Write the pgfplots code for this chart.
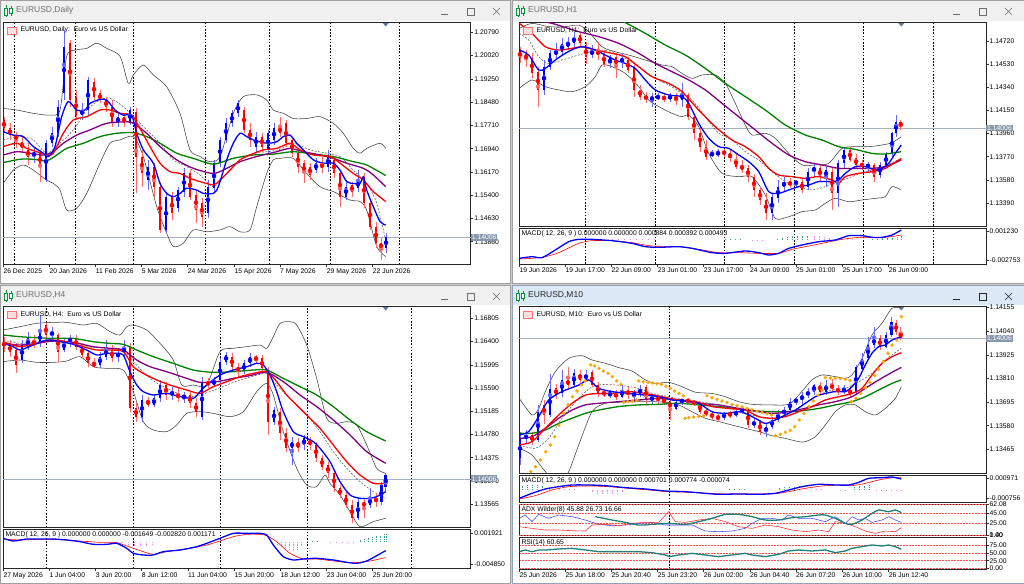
\documentclass[border=0pt]{standalone}
\usepackage{fontspec}
\setmainfont{Liberation Sans}
\usepackage{pgfplots}
\usepackage{pgfplotstable}
\pgfplotsset{compat=1.18}

\definecolor{mtblue}{RGB}{0,0,255}
\definecolor{mtred}{RGB}{255,0,0}
\definecolor{mtpurple}{RGB}{128,0,128}
\definecolor{mtgreen}{RGB}{0,128,0}
\definecolor{bbcol}{RGB}{64,64,64}
\definecolor{midcol}{RGB}{90,90,90}
\definecolor{tagcol}{RGB}{138,152,172}
\definecolor{pricecol}{RGB}{165,176,192}
\definecolor{sarcol}{RGB}{255,165,0}
\definecolor{histteal}{RGB}{60,160,150}
\definecolor{histpink}{RGB}{238,130,238}
\definecolor{adxcol}{RGB}{32,128,120}
\definecolor{lvlred}{RGB}{255,80,80}
\definecolor{titlegray}{RGB}{240,240,240}
\definecolor{titleblue}{RGB}{219,233,247}
\definecolor{wborder}{RGB}{160,160,160}
\definecolor{gapcol}{RGB}{205,205,205}
\definecolor{ttext}{RGB}{110,110,110}
\definecolor{icongreen}{RGB}{0,150,60}
\definecolor{markcol}{RGB}{100,120,150}

\newcommand{\tf}{\fontsize{6.8}{8}\selectfont}

% ---------------- candle data ----------------
\pgfplotstableread{
x o h l c
4 1.1789 1.1800 1.1750 1.1761
10 1.1761 1.1778 1.1723 1.1739
16 1.1739 1.1750 1.1695 1.1723
22 1.1717 1.1734 1.1679 1.1695
28 1.1690 1.1712 1.1640 1.1668
34 1.1668 1.1701 1.1646 1.1684
40 1.1679 1.1690 1.1585 1.1635
46 1.1590 1.1723 1.1585 1.1712
52 1.1712 1.1767 1.1701 1.1745
58 1.1745 1.1855 1.1734 1.1833
64 1.1877 1.2087 1.1855 1.2032
70 1.2043 1.2054 1.1833 1.1855
76 1.1866 1.1888 1.1789 1.1805
82 1.1805 1.1844 1.1789 1.1822
88 1.1822 1.1932 1.1805 1.1921
94 1.1916 1.1927 1.1855 1.1866
100 1.1877 1.1888 1.1844 1.1855
106 1.1855 1.1866 1.1817 1.1833
112 1.1833 1.1855 1.1767 1.1778
118 1.1778 1.1811 1.1767 1.1800
124 1.1800 1.1811 1.1767 1.1778
130 1.1778 1.1833 1.1772 1.1822
136 1.1817 1.1828 1.1546 1.1668
142 1.1668 1.1690 1.1568 1.1612
148 1.1590 1.1657 1.1557 1.1635
154 1.1635 1.1646 1.1535 1.1568
160 1.1568 1.1585 1.1414 1.1425
166 1.1425 1.1546 1.1414 1.1535
172 1.1535 1.1552 1.1458 1.1480
178 1.1497 1.1568 1.1486 1.1557
184 1.1552 1.1629 1.1535 1.1612
190 1.1612 1.1623 1.1524 1.1535
196 1.1541 1.1557 1.1447 1.1491
202 1.1513 1.1530 1.1436 1.1469
208 1.1480 1.1590 1.1464 1.1568
214 1.1563 1.1657 1.1546 1.1646
220 1.1646 1.1734 1.1635 1.1723
226 1.1723 1.1794 1.1712 1.1778
232 1.1778 1.1822 1.1767 1.1811
238 1.1811 1.1855 1.1800 1.1844
244 1.1822 1.1833 1.1745 1.1756
250 1.1756 1.1778 1.1701 1.1723
256 1.1701 1.1750 1.1684 1.1734
262 1.1734 1.1745 1.1684 1.1701
268 1.1690 1.1756 1.1673 1.1745
274 1.1723 1.1778 1.1706 1.1761
280 1.1767 1.1800 1.1734 1.1745
286 1.1778 1.1789 1.1701 1.1712
292 1.1723 1.1734 1.1668 1.1679
298 1.1679 1.1690 1.1612 1.1635
304 1.1646 1.1657 1.1579 1.1612
310 1.1635 1.1646 1.1590 1.1607
316 1.1623 1.1662 1.1612 1.1646
322 1.1646 1.1668 1.1612 1.1629
328 1.1635 1.1690 1.1618 1.1668
334 1.1657 1.1668 1.1596 1.1612
340 1.1612 1.1623 1.1502 1.1535
346 1.1535 1.1590 1.1524 1.1568
352 1.1574 1.1585 1.1535 1.1552
358 1.1563 1.1623 1.1552 1.1590
364 1.1601 1.1612 1.1497 1.1513
370 1.1513 1.1524 1.1425 1.1436
376 1.1436 1.1453 1.1364 1.1381
381 1.1381 1.1397 1.1326 1.1364
386 1.1364 1.1414 1.1348 1.1403
}\dA

\pgfplotstableread{
x o h l c
8 1.14646 1.14673 1.14536 1.14578
14 1.14619 1.14646 1.14509 1.14564
20 1.14578 1.14619 1.14413 1.14454
26 1.14468 1.14509 1.14181 1.14318
32 1.14318 1.14564 1.14277 1.14509
38 1.14509 1.14646 1.14482 1.14619
44 1.14605 1.14701 1.14564 1.14646
50 1.14632 1.14742 1.14605 1.14701
56 1.14673 1.14756 1.14646 1.14715
62 1.14701 1.14797 1.14673 1.14756
68 1.14769 1.14797 1.14673 1.14701
74 1.14673 1.14715 1.14536 1.14591
80 1.14605 1.14687 1.14578 1.14646
86 1.14646 1.14715 1.14564 1.14605
92 1.14605 1.14646 1.14509 1.14536
98 1.14536 1.14605 1.14495 1.14578
104 1.14591 1.14619 1.14413 1.14509
110 1.14550 1.14619 1.14495 1.14578
116 1.14564 1.14591 1.14454 1.14482
122 1.14495 1.14523 1.14263 1.14318
128 1.14318 1.14359 1.14235 1.14263
134 1.14277 1.14304 1.14208 1.14235
140 1.14235 1.14290 1.14181 1.14263
146 1.14249 1.14290 1.14235 1.14268
152 1.14263 1.14285 1.14222 1.14241
158 1.14241 1.14296 1.14222 1.14277
164 1.14268 1.14290 1.14194 1.14235
170 1.14235 1.14372 1.14181 1.14290
176 1.14277 1.14290 1.14071 1.14098
182 1.14098 1.14126 1.13907 1.13962
188 1.13962 1.14016 1.13811 1.13852
194 1.13852 1.13907 1.13743 1.13770
200 1.13784 1.13825 1.13770 1.13797
206 1.13784 1.13838 1.13770 1.13811
212 1.13811 1.13838 1.13770 1.13797
218 1.13797 1.13825 1.13729 1.13756
224 1.13756 1.13797 1.13674 1.13688
230 1.13702 1.13743 1.13633 1.13660
236 1.13674 1.13702 1.13565 1.13606
242 1.13606 1.13633 1.13442 1.13496
248 1.13496 1.13524 1.13373 1.13414
254 1.13414 1.13469 1.13250 1.13305
260 1.13305 1.13469 1.13250 1.13442
266 1.13428 1.13578 1.13387 1.13524
272 1.13524 1.13606 1.13483 1.13565
278 1.13565 1.13592 1.13510 1.13537
284 1.13551 1.13578 1.13524 1.13565
290 1.13565 1.13592 1.13469 1.13496
296 1.13524 1.13674 1.13496 1.13647
302 1.13647 1.13715 1.13606 1.13688
308 1.13674 1.13702 1.13565 1.13606
314 1.13606 1.13688 1.13524 1.13660
320 1.13647 1.13674 1.13332 1.13469
326 1.13469 1.13743 1.13359 1.13715
332 1.13715 1.13852 1.13674 1.13825
338 1.13825 1.13852 1.13729 1.13743
344 1.13756 1.13797 1.13674 1.13702
350 1.13715 1.13743 1.13660 1.13688
356 1.13688 1.13729 1.13647 1.13702
362 1.13702 1.13715 1.13565 1.13606
368 1.13619 1.13729 1.13592 1.13702
374 1.13702 1.13811 1.13674 1.13797
380 1.13797 1.13975 1.13756 1.13962
384 1.13962 1.14112 1.13934 1.14057
388.7 1.14057 1.14071 1.13989 1.14016
}\dB

\pgfplotstableread{
x o h l c
4 1.16398 1.16485 1.16224 1.16311
10 1.16340 1.16427 1.16137 1.16224
16 1.16253 1.16369 1.15846 1.15992
22 1.16079 1.16427 1.16021 1.16340
28 1.16311 1.16573 1.16253 1.16456
34 1.16427 1.16515 1.16282 1.16340
40 1.16369 1.16863 1.16311 1.16573
46 1.16689 1.16718 1.16456 1.16515
52 1.16515 1.16660 1.16398 1.16573
58 1.16515 1.16544 1.16050 1.16224
64 1.16253 1.16456 1.16224 1.16398
70 1.16398 1.16515 1.16311 1.16456
76 1.16456 1.16515 1.16253 1.16311
82 1.16311 1.16369 1.16108 1.16166
88 1.16195 1.16253 1.15962 1.16021
94 1.16050 1.16108 1.15933 1.15962
100 1.15992 1.16224 1.15933 1.16137
106 1.16137 1.16427 1.16079 1.16282
112 1.16253 1.16340 1.16050 1.16108
118 1.16137 1.16282 1.16050 1.16195
124 1.16224 1.16427 1.16137 1.16282
130 1.16311 1.16369 1.15178 1.15236
136 1.15236 1.15353 1.15004 1.15091
142 1.15091 1.15469 1.15004 1.15382
148 1.15382 1.15440 1.15265 1.15295
154 1.15295 1.15469 1.15265 1.15411
160 1.15411 1.15730 1.15353 1.15643
166 1.15643 1.15701 1.15382 1.15469
172 1.15469 1.15614 1.15382 1.15527
178 1.15498 1.15585 1.15353 1.15411
184 1.15411 1.15527 1.15324 1.15469
190 1.15469 1.15527 1.15236 1.15324
196 1.15324 1.15411 1.15091 1.15178
202 1.15091 1.15788 1.15033 1.15701
208 1.15701 1.15759 1.15585 1.15643
214 1.15643 1.15788 1.15614 1.15730
220 1.15730 1.16108 1.15672 1.16050
226 1.16050 1.16224 1.15992 1.16166
232 1.16137 1.16195 1.15904 1.15962
238 1.15962 1.16021 1.15788 1.15875
244 1.15887 1.16079 1.15829 1.16021
250 1.16021 1.16195 1.15962 1.16137
256 1.16137 1.16166 1.16021 1.16079
262 1.16108 1.16166 1.15875 1.15933
268 1.15904 1.15962 1.14772 1.15004
274 1.15004 1.15265 1.14946 1.15207
280 1.15178 1.15236 1.14684 1.14801
286 1.14801 1.14888 1.14481 1.14539
292 1.14539 1.14743 1.14248 1.14655
298 1.14655 1.14713 1.14481 1.14539
304 1.14597 1.14772 1.14510 1.14713
310 1.14684 1.14743 1.14510 1.14597
316 1.14597 1.14655 1.14306 1.14364
322 1.14364 1.14423 1.14162 1.14220
328 1.14248 1.14306 1.14016 1.14104
334 1.14104 1.14162 1.13784 1.13842
340 1.13842 1.13900 1.13668 1.13726
346 1.13726 1.13784 1.13493 1.13551
352 1.13551 1.13639 1.13232 1.13319
358 1.13319 1.13668 1.13290 1.13610
364 1.13610 1.13668 1.13319 1.13522
370 1.13551 1.13842 1.13493 1.13668
376 1.13668 1.13755 1.13522 1.13610
381.3 1.13610 1.13958 1.13551 1.13900
385.7 1.13871 1.14104 1.13784 1.14075
}\dC

\pgfplotstableread{
x o h l c
8 1.13421 1.13551 1.13388 1.13518
14 1.13518 1.13559 1.13494 1.13535
20 1.13535 1.13551 1.13486 1.13502
26 1.13510 1.13681 1.13502 1.13648
32 1.13681 1.13705 1.13591 1.13632
38 1.13632 1.13835 1.13624 1.13762
44 1.13762 1.13786 1.13713 1.13729
50 1.13737 1.13851 1.13721 1.13803
56 1.13803 1.13867 1.13762 1.13778
62 1.13778 1.13859 1.13770 1.13835
68 1.13835 1.13851 1.13786 1.13803
74 1.13803 1.13851 1.13794 1.13835
80 1.13843 1.13851 1.13770 1.13778
86 1.13778 1.13794 1.13721 1.13737
92 1.13746 1.13762 1.13721 1.13729
98 1.13729 1.13754 1.13713 1.13737
104 1.13737 1.13754 1.13705 1.13721
110 1.13721 1.13778 1.13713 1.13754
116 1.13754 1.13770 1.13713 1.13729
122 1.13729 1.13754 1.13705 1.13737
128 1.13737 1.13778 1.13721 1.13762
134 1.13770 1.13778 1.13681 1.13705
140 1.13705 1.13737 1.13689 1.13721
146 1.13721 1.13729 1.13689 1.13705
152 1.13705 1.13721 1.13681 1.13697
158 1.13697 1.13713 1.13608 1.13664
164 1.13664 1.13705 1.13656 1.13697
170 1.13697 1.13713 1.13681 1.13705
176 1.13705 1.13713 1.13684 1.13697
182 1.13697 1.13705 1.13678 1.13689
188 1.13689 1.13697 1.13640 1.13648
194 1.13648 1.13664 1.13629 1.13640
200 1.13640 1.13651 1.13608 1.13624
206 1.13624 1.13635 1.13600 1.13616
212 1.13616 1.13648 1.13608 1.13640
218 1.13640 1.13651 1.13619 1.13632
224 1.13632 1.13661 1.13624 1.13648
230 1.13648 1.13673 1.13635 1.13664
236 1.13656 1.13664 1.13570 1.13583
242 1.13583 1.13616 1.13567 1.13600
248 1.13600 1.13608 1.13535 1.13551
254 1.13551 1.13591 1.13526 1.13575
260 1.13575 1.13624 1.13567 1.13608
266 1.13608 1.13656 1.13600 1.13640
272 1.13640 1.13673 1.13624 1.13656
278 1.13656 1.13713 1.13648 1.13697
284 1.13697 1.13721 1.13681 1.13705
290 1.13705 1.13746 1.13689 1.13729
296 1.13729 1.13762 1.13713 1.13746
302 1.13746 1.13786 1.13729 1.13778
308 1.13778 1.13794 1.13737 1.13746
314 1.13746 1.13803 1.13729 1.13778
320 1.13778 1.13811 1.13746 1.13762
326 1.13762 1.13778 1.13729 1.13746
332 1.13746 1.13778 1.13737 1.13762
338 1.13754 1.13770 1.13721 1.13737
344 1.13746 1.13876 1.13729 1.13867
350 1.13859 1.13933 1.13851 1.13908
356 1.13908 1.14014 1.13900 1.13973
362 1.13973 1.14062 1.13957 1.14006
368 1.14006 1.14022 1.13949 1.13965
374 1.13965 1.14038 1.13957 1.14022
379.3 1.14022 1.14111 1.14014 1.14087
384 1.14079 1.14095 1.14022 1.14038
388.7 1.14038 1.14062 1.13997 1.14006
}\dD

\newcommand{\candles}[1]{%
  \addplot[mtblue!60, forget plot, only marks, mark=none,
    restrict expr to domain={10000*(\thisrow{c}-\thisrow{o})}{0:10000},
    error bars/.cd, y dir=both, y explicit, error mark=none,
    error bar style={mtblue!60, line width=0.7pt}]
    table[x=x, y expr={(\thisrow{h}+\thisrow{l})/2}, y error expr={(\thisrow{h}-\thisrow{l})/2}] {#1};
  \addplot[mtblue, forget plot, only marks, mark=none,
    restrict expr to domain={10000*(\thisrow{c}-\thisrow{o})}{0:10000},
    error bars/.cd, y dir=both, y explicit, error mark=none,
    error bar style={mtblue, line width=2.8pt}]
    table[x=x, y expr={(\thisrow{o}+\thisrow{c})/2}, y error expr={abs(\thisrow{c}-\thisrow{o})/2}] {#1};
  \addplot[mtred!60, forget plot, only marks, mark=none,
    restrict expr to domain={10000*(\thisrow{c}-\thisrow{o})}{-10000:-0.0001},
    error bars/.cd, y dir=both, y explicit, error mark=none,
    error bar style={mtred!60, line width=0.7pt}]
    table[x=x, y expr={(\thisrow{h}+\thisrow{l})/2}, y error expr={(\thisrow{h}-\thisrow{l})/2}] {#1};
  \addplot[mtred, forget plot, only marks, mark=none,
    restrict expr to domain={10000*(\thisrow{c}-\thisrow{o})}{-10000:-0.0001},
    error bars/.cd, y dir=both, y explicit, error mark=none,
    error bar style={mtred, line width=2.8pt}]
    table[x=x, y expr={(\thisrow{o}+\thisrow{c})/2}, y error expr={abs(\thisrow{c}-\thisrow{o})/2}] {#1};
}

\pgfplotsset{
  mt/.style={
    scale only axis, anchor=north west,
    axis line style={draw=black!85, line width=0.7pt},
    xtick pos=bottom, ytick pos=right, tick align=outside,
    major tick length=2.5pt, tick style={black!80, line width=0.5pt},
    tick label style={font=\tf},
    yticklabel style={inner sep=1pt},
    xticklabel style={anchor=north west, inner sep=1pt, xshift=-1pt, yshift=-0.5pt},
    xtick=\empty, scaled y ticks=false, enlargelimits=false,
  },
  vgrid/.style={extra x ticks={#1}, extra x tick labels={},
    extra x tick style={grid=major, major grid style={black, line width=0.5pt, dash pattern=on 1.6pt off 1.6pt}, major tick length=0pt}},
  pline/.style={extra y ticks={1.14006}, extra y tick labels={1.14006},
    extra y tick style={grid=major, major grid style={pricecol, line width=0.8pt}, major tick length=0pt,
      yticklabel style={fill=tagcol, text=white, inner sep=1pt}}},
  ma/.style={line width=1.3pt, smooth, tension=0.45, no marks},
  bb/.style={line width=0.55pt, draw=bbcol, smooth, tension=0.45, no marks},
  mid/.style={line width=0.55pt, draw=midcol, dash pattern=on 2pt off 1.5pt, smooth, tension=0.45, no marks},
  hist/.style={ycomb, no marks, line width=1pt, dash pattern=on 1pt off 0.7pt},
  lvl/.style={draw=lvlred, line width=0.5pt, dash pattern=on 1.5pt off 1.5pt},
}

\newcommand{\legendtxt}[1]{%
  \node[anchor=north west, draw=red!55, fill=red!12, minimum width=9pt, minimum height=7pt, inner sep=0pt] at (rel axis cs:0,1) [xshift=4pt, yshift=-4pt] {};
  \node[anchor=west, font=\tf, inner sep=0pt] at (rel axis cs:0,1) [xshift=17pt, yshift=-7.5pt] {#1};}

\begin{document}
\begin{tikzpicture}
\useasboundingbox (0pt,0pt) rectangle (1024pt,-583pt);
\fill[gapcol] (0pt,0pt) rectangle (1024pt,-583pt);
\begin{scope}[x=1pt,y=1pt]
% windows
\fill[white] (0,0) rectangle (510,-283);
\fill[white] (512,0) rectangle (1024,-283);
\fill[white] (0,-285) rectangle (510,-583);
\fill[white] (512,-285) rectangle (1024,-583);
\fill[titlegray] (0,0) rectangle (510,-21);
\fill[titlegray] (512,0) rectangle (1024,-21);
\fill[titlegray] (0,-285) rectangle (510,-305);
\fill[titleblue] (512,-285) rectangle (1024,-305);
\draw[wborder] (0.3,-0.3) rectangle (509.7,-282.7);
\draw[wborder] (512.3,-0.3) rectangle (1023.7,-282.7);
\draw[wborder] (0.3,-285.3) rectangle (509.7,-582.7);
\draw[markcol!70] (512.3,-285.3) rectangle (1023.7,-582.7);
% title bars
\foreach \ox/\oy/\ttl/\tc in {0/0/{EURUSD,Daily}/ttext, 512/0/{EURUSD,H1}/ttext, 0/-285/{EURUSD,H4}/ttext, 512/-285/{EURUSD,M10}/black!85}{
  \draw[icongreen, line width=0.6pt] (\ox+6,\oy-5) -- (\ox+6,\oy-17) (\ox+11,\oy-6) -- (\ox+11,\oy-16);
  \draw[icongreen, line width=0.6pt, fill=white] (\ox+4.5,\oy-8) rectangle (\ox+7.5,\oy-15) (\ox+9.5,\oy-8.5) rectangle (\ox+12.5,\oy-13.5);
  \node[anchor=west, font=\fontsize{8.5}{10}\selectfont, text=\tc, inner sep=0pt] at (\ox+16,\oy-10.5) {\ttl};
  \draw[\tc, line width=0.6pt] (\ox+441,\oy-14) -- (\ox+448,\oy-14);
  \draw[\tc, line width=0.6pt] (\ox+467,\oy-8) rectangle (\ox+474,\oy-15);
  \draw[\tc, line width=0.6pt] (\ox+493,\oy-8) -- (\ox+500,\oy-15) (\ox+493,\oy-15) -- (\ox+500,\oy-8);
}
\fill[markcol] (382.7,-23) -- (388.7,-23) -- (385.7,-26.5) -- cycle;
\fill[markcol] (898.3,-23) -- (904.3,-23) -- (901.3,-26.5) -- cycle;
\fill[markcol] (382.7,-307) -- (388.7,-307) -- (385.7,-310.5) -- cycle;
\fill[markcol] (898.3,-307) -- (904.3,-307) -- (901.3,-310.5) -- cycle;
\end{scope}

% ================= DAILY =================
\begin{axis}[mt, pline, at={(3.3pt,-22.7pt)}, width=467.4pt, height=241.6pt,
  xmin=3.3, xmax=470.7, ymin=1.13113, ymax=1.21110,
  ytick={1.20790,1.20020,1.19250,1.18480,1.17710,1.16940,1.16170,1.15400,1.14630,1.13860},
  yticklabels={1.20790,1.20020,1.19250,1.18480,1.17710,1.16940,1.16170,1.15400,1.14630,1.13860},
  xtick={3.3,49.3,95.7,141.7,187.7,234.3,280,326.7,372.7},
  xticklabels={26 Dec 2025,20 Jan 2026,11 Feb 2026,5 Mar 2026,24 Mar 2026,15 Apr 2026,7 May 2026,29 May 2026,22 Jun 2026},
  vgrid={14.3,75.3,133.3,205.7,269.3,330.3,399.7}]
\addplot[bb] coordinates {(3.3,1.1827)(16.7,1.1822)(33.3,1.1811)(50,1.1805)(60,1.1822)(66.7,1.2000)(76.7,1.2021)(86.7,1.2026)(96.7,1.2043)(106.7,1.2026)(120,1.2000)(128.3,1.1910)(133.3,1.1938)(143.3,1.1971)(153.3,1.1938)(166.7,1.1899)(180,1.1811)(190,1.1690)(200,1.1668)(210,1.1651)(220,1.1668)(233.3,1.1811)(243.3,1.1866)(256.7,1.1872)(266.7,1.1855)(273.3,1.1822)(283.3,1.1811)(293.3,1.1794)(306.7,1.1794)(320,1.1800)(333.3,1.1778)(343.3,1.1745)(353.3,1.1695)(360,1.1679)(366.7,1.1695)(380,1.1712)(385.7,1.1695)};
\addplot[bb] coordinates {(3.3,1.1579)(13.3,1.1623)(23.3,1.1640)(33.3,1.1623)(46.7,1.1590)(53.3,1.1579)(60,1.1557)(66.7,1.1491)(76.7,1.1497)(86.7,1.1546)(100,1.1646)(110,1.1712)(120,1.1723)(133.3,1.1734)(143.3,1.1668)(156.7,1.1502)(166.7,1.1414)(173.3,1.1370)(183.3,1.1381)(193.3,1.1425)(206.7,1.1419)(220,1.1425)(230,1.1436)(240,1.1419)(250,1.1425)(256.7,1.1502)(266.7,1.1612)(273.3,1.1657)(280,1.1662)(293.3,1.1662)(306.7,1.1612)(320,1.1568)(333.3,1.1552)(350,1.1524)(360,1.1519)(366.7,1.1491)(376.7,1.1370)(385.7,1.1337)};
\addplot[mid] coordinates {(3.3,1.1723)(20,1.1734)(33.3,1.1723)(46.7,1.1679)(60,1.1712)(73.3,1.1756)(86.7,1.1822)(100,1.1855)(110,1.1861)(123.3,1.1833)(133.3,1.1800)(146.7,1.1756)(160,1.1712)(173.3,1.1657)(186.7,1.1635)(200,1.1607)(213.3,1.1568)(226.7,1.1612)(240,1.1657)(253.3,1.1679)(266.7,1.1684)(280,1.1692)(293.3,1.1712)(310,1.1690)(326.7,1.1679)(340,1.1668)(353.3,1.1623)(366.7,1.1579)(376.7,1.1513)(385.7,1.1390)};
\candles{\dA}
\addplot[ma, mtgreen] coordinates {(3.3,1.1648)(20,1.1659)(33.3,1.1659)(46.7,1.1654)(56.7,1.1673)(66.7,1.1695)(83.3,1.1712)(100,1.1734)(116.7,1.1745)(133.3,1.1747)(146.7,1.1734)(160,1.1712)(176.7,1.1679)(193.3,1.1662)(213.3,1.1643)(233.3,1.1662)(253.3,1.1673)(273.3,1.1676)(293.3,1.1684)(313.3,1.1676)(333.3,1.1668)(353.3,1.1651)(366.7,1.1640)(385.7,1.1605)};
\addplot[ma, mtpurple] coordinates {(3.3,1.1673)(16.7,1.1684)(30,1.1679)(43.3,1.1673)(53.3,1.1684)(63.3,1.1712)(76.7,1.1739)(90,1.1756)(106.7,1.1778)(126.7,1.1783)(133.3,1.1778)(146.7,1.1745)(160,1.1701)(176.7,1.1657)(193.3,1.1629)(213.3,1.1612)(226.7,1.1629)(240,1.1651)(256.7,1.1668)(276.7,1.1684)(290,1.1695)(303.3,1.1684)(320,1.1673)(333.3,1.1662)(346.7,1.1646)(363.3,1.1629)(373.3,1.1607)(385.7,1.1568)};
\addplot[ma, mtred] coordinates {(3.3,1.1701)(16.7,1.1712)(26.7,1.1695)(36.7,1.1684)(46.7,1.1673)(53.3,1.1679)(63.3,1.1745)(73.3,1.1789)(86.7,1.1800)(100,1.1822)(110,1.1822)(120,1.1811)(131.7,1.1805)(140,1.1761)(150,1.1701)(160,1.1646)(170,1.1618)(180,1.1612)(190,1.1596)(200,1.1585)(213.3,1.1574)(220,1.1590)(230,1.1623)(240,1.1657)(250,1.1673)(263.3,1.1690)(276.7,1.1695)(290,1.1712)(300,1.1690)(313.3,1.1673)(330,1.1668)(340,1.1646)(353.3,1.1612)(363.3,1.1590)(373.3,1.1552)(385.7,1.1519)};
\addplot[ma, mtblue] coordinates {(3.3,1.1750)(13.3,1.1739)(23.3,1.1734)(33.3,1.1701)(43.3,1.1679)(48.3,1.1668)(55,1.1701)(61.7,1.1800)(68.3,1.1850)(76.7,1.1822)(85,1.1822)(90,1.1844)(100,1.1857)(106.7,1.1855)(115,1.1822)(123.3,1.1805)(131.7,1.1805)(136.7,1.1745)(143.3,1.1690)(153.3,1.1646)(160,1.1579)(166.7,1.1546)(173.3,1.1535)(180,1.1546)(186.7,1.1563)(196.7,1.1557)(203.3,1.1546)(213.3,1.1546)(218.3,1.1568)(226.7,1.1657)(233.3,1.1712)(240,1.1745)(246.7,1.1734)(253.3,1.1723)(266.7,1.1712)(276.7,1.1717)(283.3,1.1734)(290,1.1739)(296.7,1.1712)(303.3,1.1690)(313.3,1.1657)(323.3,1.1646)(333.3,1.1646)(340,1.1623)(346.7,1.1585)(353.3,1.1579)(360,1.1579)(363.3,1.1601)(366.7,1.1557)(373.3,1.1502)(380,1.1453)(385.7,1.1441)};
\legendtxt{EURUSD, Daily:\ \ Euro vs US Dollar}
\end{axis}

% ================= H1 =================
\begin{axis}[mt, pline, at={(519.3pt,-22.7pt)}, width=466.7pt, height=203.3pt,
  xmin=7.3, xmax=474, ymin=1.132004, ymax=1.148706,
  ytick={1.14720,1.14530,1.14340,1.14150,1.13960,1.13770,1.13580,1.13390},
  yticklabels={1.14720,1.14530,1.14340,1.14150,1.13960,1.13770,1.13580,1.13390},
  vgrid={73.7,143.3,212.7,282.3,351.7,421.3}]
\addplot[bb] coordinates {(7.3,1.14824)(20,1.14865)(36.7,1.14838)(53.3,1.14838)(66.7,1.14851)(76.7,1.14797)(90,1.14673)(103.3,1.14632)(116.7,1.14605)(133.3,1.14564)(150,1.14523)(160,1.14509)(170,1.14454)(180,1.14413)(190,1.14441)(203.3,1.14441)(213.3,1.14372)(223.3,1.14208)(233.3,1.14030)(240,1.13948)(253.3,1.13962)(263.3,1.13921)(276.7,1.13797)(290,1.13702)(303.3,1.13702)(316.7,1.13715)(330,1.13838)(343.3,1.13852)(356.7,1.13852)(370,1.13866)(380,1.13885)(389.3,1.13934)};
\addplot[bb] coordinates {(7.3,1.14331)(20,1.14400)(33.3,1.14345)(46.7,1.14318)(60,1.14304)(73.3,1.14345)(83.3,1.14427)(90,1.14523)(100,1.14509)(113.3,1.14454)(126.7,1.14345)(136.7,1.14235)(146.7,1.14181)(160,1.14126)(170,1.14098)(176.7,1.14112)(186.7,1.14016)(196.7,1.13797)(210,1.13633)(226.7,1.13606)(240,1.13606)(253.3,1.13455)(263.3,1.13263)(276.7,1.13277)(290,1.13318)(303.3,1.13332)(313.3,1.13387)(323.3,1.13428)(336.7,1.13400)(350,1.13414)(363.3,1.13428)(373.3,1.13442)(380,1.13524)(389.3,1.13496)};
\addplot[mid] coordinates {(7.3,1.14783)(16.7,1.14728)(26.7,1.14591)(36.7,1.14536)(50,1.14564)(66.7,1.14605)(86.7,1.14646)(100,1.14632)(113.3,1.14578)(126.7,1.14509)(140,1.14427)(156.7,1.14359)(170,1.14290)(180,1.14235)(193.3,1.14098)(206.7,1.13962)(220,1.13907)(233.3,1.13811)(246.7,1.13743)(260,1.13647)(273.3,1.13565)(286.7,1.13524)(300,1.13496)(313.3,1.13524)(326.7,1.13565)(340,1.13606)(353.3,1.13647)(366.7,1.13674)(389.3,1.13756)};
\candles{\dB}
\addplot[ma, mtgreen] coordinates {(100,1.14920)(113.3,1.14871)(133.3,1.14783)(153.3,1.14687)(173.3,1.14605)(193.3,1.14495)(213.3,1.14372)(233.3,1.14263)(253.3,1.14153)(273.3,1.14030)(293.3,1.13948)(310,1.13907)(326.7,1.13852)(343.3,1.13830)(360,1.13797)(373.3,1.13792)(389.3,1.13811)};
\addplot[ma, mtpurple] coordinates {(7.3,1.14920)(40,1.14865)(66.7,1.14797)(86.7,1.14756)(106.7,1.14701)(126.7,1.14619)(143.3,1.14536)(160,1.14468)(176.7,1.14400)(193.3,1.14318)(210,1.14208)(226.7,1.14098)(243.3,1.13989)(260,1.13880)(276.7,1.13784)(293.3,1.13729)(310,1.13702)(326.7,1.13674)(343.3,1.13674)(360,1.13674)(373.3,1.13688)(389.3,1.13743)};
\addplot[ma, mtred] coordinates {(7.3,1.14865)(20,1.14783)(33.3,1.14673)(46.7,1.14646)(60,1.14660)(70,1.14673)(83.3,1.14646)(100,1.14619)(113.3,1.14591)(126.7,1.14509)(140,1.14427)(156.7,1.14372)(170,1.14304)(186.7,1.14153)(203.3,1.14016)(220,1.13907)(233.3,1.13852)(246.7,1.13770)(256.7,1.13674)(266.7,1.13619)(280,1.13606)(293.3,1.13592)(306.7,1.13606)(320,1.13578)(326.7,1.13551)(333.3,1.13606)(346.7,1.13633)(360,1.13647)(373.3,1.13674)(389.3,1.13756)};
\addplot[ma, mtblue] coordinates {(7.3,1.14646)(16.7,1.14605)(26.7,1.14482)(33.3,1.14495)(43.3,1.14564)(53.3,1.14619)(63.3,1.14660)(71.7,1.14673)(83.3,1.14646)(93.3,1.14605)(103.3,1.14564)(113.3,1.14536)(123.3,1.14495)(133.3,1.14400)(143.3,1.14318)(156.7,1.14277)(170,1.14263)(176.7,1.14208)(186.7,1.14044)(196.7,1.13921)(206.7,1.13852)(216.7,1.13838)(226.7,1.13784)(236.7,1.13729)(246.7,1.13647)(256.7,1.13483)(266.7,1.13469)(276.7,1.13496)(286.7,1.13524)(296.7,1.13537)(306.7,1.13565)(320,1.13565)(326.7,1.13578)(333.3,1.13633)(343.3,1.13688)(353.3,1.13688)(363.3,1.13660)(370,1.13674)(376.7,1.13715)(383.3,1.13797)(389.3,1.13866)};
\legendtxt{EURUSD, H1:\ \ Euro vs US Dollar}
\end{axis}
\begin{axis}[mt, at={(519.3pt,-228pt)}, width=466.7pt, height=36pt,
  xmin=7.3, xmax=474, ymin=-0.003304, ymax=0.001642,
  ytick={0.001230,-0.002753}, yticklabels={0.001230,-0.002753},
  xtick={7.3,53.3,99.3,145.7,191.7,238,284,330.3,376.7},
  xticklabels={19 Jun 2026,19 Jun 17:00,22 Jun 09:00,23 Jun 01:00,23 Jun 17:00,24 Jun 09:00,25 Jun 01:00,25 Jun 17:00,26 Jun 09:00},
  vgrid={73.7,143.3,212.7,282.3,351.7,421.3}]
\addplot[hist, histteal] coordinates {(213,0.0001)(218,0.0001)(223,0.0001)(228,0.0001)(265,0.0002)(270,0.0003)(275,0.0004)(280,0.0005)(285,0.0006)(290,0.0006)(295,0.0007)(360,0.0002)(365,0.0002)(370,0.0003)(375,0.0003)(380,0.0003)(385,0.0004)(389,0.0005)};
\addplot[hist, histpink] coordinates {(100,0.0001)(106,0.0001)(112,0.0001)(118,0.00015)(124,0.00015)(130,0.0001)(136,0.0001)(142,0.0001)(240,-0.0001)(245,-0.0001)(250,-0.0001)(302,0.0006)(307,0.0005)(312,0.0004)(317,0.0003)(335,0.0001)(340,0.0001)};
\addplot[mtred, line width=0.6pt, smooth, tension=0.4, no marks] coordinates {(7.3,-0.002617)(20,-0.002526)(33.3,-0.002297)(46.7,-0.001747)(66.7,-0.000465)(80,-0.000099)(100,-0.000099)(120,-0.000373)(140,-0.000831)(166.7,-0.000923)(186.7,-0.001289)(206.7,-0.001747)(226.7,-0.001747)(246.7,-0.001839)(266.7,-0.001839)(280,-0.001289)(293.3,-0.000923)(313.3,-0.000373)(330,0.000085)(346.7,0.000359)(360,0.000359)(373.3,0.000359)(389.3,0.000680)};
\addplot[mtblue, line width=1.3pt, smooth, tension=0.4, no marks] coordinates {(7.3,-0.002526)(20,-0.002297)(30,-0.002434)(43.3,-0.001381)(56.7,-0.000236)(66.7,0.000085)(80,0.000085)(100,-0.000099)(120,-0.000465)(133.3,-0.000923)(146.7,-0.001014)(166.7,-0.000923)(180,-0.001152)(200,-0.001747)(213.3,-0.001839)(233.3,-0.001518)(246.7,-0.001747)(256.7,-0.002068)(266.7,-0.001839)(276.7,-0.001152)(290,-0.000694)(306.7,-0.000236)(323.3,-0.000007)(336.7,0.000588)(350,0.000588)(360,0.000359)(370,0.000359)(380,0.000680)(389.3,0.001367)};
\node[anchor=north west, font=\tf, inner sep=1pt] at (rel axis cs:0,1) [xshift=1pt, yshift=-1pt] {MACD( 12, 26, 9 ) 0.000000 0.000000 0.000884 0.000392 0.000493};
\end{axis}

% ================= H4 =================
\begin{axis}[mt, pline, at={(3.3pt,-306.7pt)}, width=467.4pt, height=220.6pt,
  xmin=3.3, xmax=470.7, ymin=1.131621, ymax=1.170083,
  ytick={1.16805,1.16400,1.15995,1.15590,1.15185,1.14780,1.14375,1.13970,1.13565},
  yticklabels={1.16805,1.16400,1.15995,1.15590,1.15185,1.14780,1.14375,1.13970,1.13565},
  vgrid={46.7,133.3,220.3,307.3,411.7}]
\addplot[bb] coordinates {(3.3,1.16602)(20,1.16660)(36.7,1.16718)(53.3,1.16735)(66.7,1.16735)(83.3,1.16689)(96.7,1.16718)(110,1.16573)(120,1.16515)(126.7,1.16660)(133.3,1.16689)(146.7,1.16602)(160,1.16369)(173.3,1.16079)(181.7,1.15643)(193.3,1.15643)(206.7,1.15643)(220,1.16224)(233.3,1.16282)(246.7,1.16311)(260,1.16340)(266.7,1.16282)(273.3,1.16485)(280,1.16718)(290,1.16747)(296.7,1.16689)(306.7,1.16340)(316.7,1.15759)(326.7,1.15062)(336.7,1.14975)(346.7,1.15004)(356.7,1.14946)(366.7,1.14597)(376.7,1.14191)(385.7,1.14104)};
\addplot[bb] coordinates {(3.3,1.16050)(20,1.16079)(36.7,1.16038)(53.3,1.16038)(66.7,1.16061)(80,1.16137)(93.3,1.15962)(106.7,1.15933)(123.3,1.15904)(133.3,1.15527)(143.3,1.15004)(153.3,1.14859)(166.7,1.14830)(176.7,1.14946)(186.7,1.15149)(200,1.15178)(213.3,1.15149)(230,1.15091)(243.3,1.15178)(256.7,1.15527)(266.7,1.15672)(273.3,1.15469)(283.3,1.14830)(296.7,1.14191)(306.7,1.13900)(316.7,1.13871)(325,1.14075)(330,1.13929)(340,1.13726)(350,1.13435)(360,1.13174)(373.3,1.13261)(385.7,1.13319)};
\addplot[mid] coordinates {(3.3,1.16427)(20,1.16369)(36.7,1.16398)(53.3,1.16398)(70,1.16387)(86.7,1.16311)(106.7,1.16282)(123.3,1.16253)(133.3,1.16050)(150,1.15759)(166.7,1.15585)(186.7,1.15440)(200,1.15469)(210,1.15527)(226.7,1.15643)(240,1.15730)(260,1.15829)(266.7,1.15846)(276.7,1.15643)(290,1.15410)(306.7,1.15120)(320,1.14830)(333.3,1.14481)(346.7,1.14191)(360,1.13958)(373.3,1.13784)(385.7,1.13668)};
\candles{\dC}
\addplot[ma, mtgreen] coordinates {(3.3,1.16515)(20,1.16485)(36.7,1.16468)(53.3,1.16456)(73.3,1.16456)(93.3,1.16398)(110,1.16369)(123.3,1.16352)(136.7,1.16253)(153.3,1.16137)(173.3,1.16021)(193.3,1.15904)(213.3,1.15864)(233.3,1.15875)(253.3,1.15904)(266.7,1.15904)(283.3,1.15759)(300,1.15614)(316.7,1.15469)(333.3,1.15265)(350,1.15033)(366.7,1.14830)(385.7,1.14667)};
\addplot[ma, mtpurple] coordinates {(3.3,1.16369)(20,1.16340)(36.7,1.16369)(53.3,1.16410)(73.3,1.16387)(93.3,1.16311)(110,1.16282)(123.3,1.16253)(136.7,1.16079)(150,1.15962)(166.7,1.15875)(186.7,1.15759)(200,1.15690)(216.7,1.15701)(233.3,1.15759)(250,1.15806)(266.7,1.15864)(283.3,1.15701)(300,1.15469)(316.7,1.15265)(333.3,1.15033)(350,1.14772)(366.7,1.14481)(385.7,1.14278)};
\addplot[ma, mtred] coordinates {(3.3,1.16398)(20,1.16311)(36.7,1.16369)(50,1.16427)(66.7,1.16398)(83.3,1.16311)(96.7,1.16253)(110,1.16253)(123.3,1.16224)(133.3,1.15962)(143.3,1.15846)(156.7,1.15730)(170,1.15643)(186.7,1.15556)(200,1.15498)(213.3,1.15614)(226.7,1.15701)(240,1.15788)(253.3,1.15846)(266.7,1.15875)(276.7,1.15701)(286.7,1.15469)(300,1.15236)(310,1.15062)(320,1.14888)(333.3,1.14597)(346.7,1.14306)(360,1.14075)(373.3,1.13929)(385.7,1.13929)};
\addplot[ma, mtblue] coordinates {(3.3,1.16369)(13.3,1.16311)(20,1.16253)(33.3,1.16340)(46.7,1.16427)(60,1.16398)(73.3,1.16352)(86.7,1.16253)(96.7,1.16166)(106.7,1.16195)(116.7,1.16195)(123.3,1.16166)(130,1.15875)(136.7,1.15643)(143.3,1.15527)(153.3,1.15469)(166.7,1.15498)(180,1.15440)(193.3,1.15411)(200,1.15527)(206.7,1.15643)(220,1.15817)(233.3,1.15904)(246.7,1.15962)(256.7,1.16021)(263.3,1.15992)(270,1.15817)(276.7,1.15527)(283.3,1.15178)(293.3,1.14830)(303.3,1.14743)(313.3,1.14655)(320,1.14539)(330,1.14306)(340,1.13958)(350,1.13726)(360,1.13668)(370,1.13668)(376.7,1.13697)(385.7,1.13784)};
\legendtxt{EURUSD, H4:\ \ Euro vs US Dollar}
\end{axis}
\begin{axis}[mt, at={(3.3pt,-529pt)}, width=467.4pt, height=39.3pt,
  xmin=3.3, xmax=470.7, ymin=-0.005715, ymax=0.002786,
  ytick={0.001921,-0.004850}, yticklabels={0.001921,-0.004850},
  xtick={3.3,49.3,95.7,141.7,188,234.3,280.3,326.7,372.7},
  xticklabels={27 May 2026,1 Jun 04:00,3 Jun 20:00,8 Jun 12:00,11 Jun 04:00,15 Jun 20:00,18 Jun 12:00,23 Jun 04:00,25 Jun 20:00},
  vgrid={46.7,133.3,220.3,307.3,411.7}]
\addplot[hist, histteal] coordinates {(307,0.0003)(312,0.0003)(317,0.0002)(360,0.0004)(364,0.0006)(368,0.0008)(372,0.0010)(376,0.0012)(380,0.0014)(384,0.0016)(386,0.0018)};
\addplot[hist, histpink] coordinates {(110,-0.0002)(116,-0.0003)(122,-0.0005)(128,-0.0007)(134,-0.0009)(140,-0.0010)(146,-0.0008)(152,-0.0005)(277,-0.0005)(281,-0.0010)(285,-0.0014)(289,-0.0018)(293,-0.0020)(297,-0.0016)(301,-0.0010)(330,-0.0002)(336,-0.0003)(342,-0.0003)(348,-0.0002)(353,-0.0001)};
\addplot[mtred, line width=0.6pt, smooth, tension=0.4, no marks] coordinates {(3.3,0.000625)(20,0.000408)(40,0.000553)(60,0.000481)(80,0.000192)(100,-0.000096)(116.7,-0.000168)(133.3,-0.001393)(143.3,-0.002113)(153.3,-0.002689)(166.7,-0.002113)(186.7,-0.001537)(206.7,-0.000672)(220,0.000192)(233.3,0.001129)(246.7,0.001633)(260,0.001633)(266.7,0.001345)(276.7,0.000048)(290,-0.002473)(303.3,-0.003697)(316.7,-0.003697)(333.3,-0.004129)(350,-0.004489)(360,-0.004417)(370,-0.004129)(385.7,-0.003409)};
\addplot[mtblue, line width=1.3pt, smooth, tension=0.4, no marks] coordinates {(3.3,0.000769)(13.3,0.000192)(26.7,0.000625)(40,0.000625)(53.3,0.000625)(66.7,0.000408)(80,0.000048)(93.3,-0.000528)(106.7,-0.000528)(116.7,-0.000312)(126.7,-0.001393)(133.3,-0.002473)(143.3,-0.002833)(153.3,-0.002833)(163.3,-0.002113)(180,-0.001753)(196.7,-0.001033)(206.7,-0.000312)(220,0.000769)(233.3,0.001849)(246.7,0.001849)(260,0.001849)(266.7,0.001489)(273.3,-0.000672)(283.3,-0.003193)(293.3,-0.003913)(303.3,-0.003697)(316.7,-0.003553)(333.3,-0.003913)(346.7,-0.004417)(356.7,-0.004633)(366.7,-0.004129)(376.7,-0.002977)(385.7,-0.001897)};
\node[anchor=north west, font=\tf, inner sep=1pt] at (rel axis cs:0,1) [xshift=1pt, yshift=-1pt] {MACD( 12, 26, 9 ) 0.000000 0.000000 -0.001649 -0.002820 0.001171};
\end{axis}

% ================= M10 =================
\begin{axis}[mt, pline, at={(519.3pt,-306.7pt)}, width=466.7pt, height=166.6pt,
  xmin=7.3, xmax=474, ymin=1.133478, ymax=1.141598,
  ytick={1.14155,1.14040,1.13925,1.13810,1.13695,1.13580,1.13465},
  yticklabels={1.14155,1.14040,1.13925,1.13810,1.13695,1.13580,1.13465},
  vgrid={157.3}]
\addplot[bb] coordinates {(7.3,1.13713)(20,1.13632)(26.7,1.13664)(33.3,1.13746)(43.3,1.13843)(56.7,1.13908)(70,1.13921)(80,1.13900)(93.3,1.13884)(106.7,1.13863)(120,1.13846)(133.3,1.13803)(143.3,1.13786)(156.7,1.13791)(170,1.13770)(183.3,1.13743)(200,1.13737)(213.3,1.13721)(226.7,1.13697)(240,1.13684)(260,1.13681)(276.7,1.13684)(286.7,1.13729)(300,1.13803)(310,1.13827)(323.3,1.13819)(333.3,1.13811)(340,1.13827)(350,1.13908)(360,1.14022)(370,1.14079)(380,1.14152)(389.3,1.14155)};
\addplot[bb] coordinates {(7.3,1.13470)(20,1.13437)(33.3,1.13356)(46.7,1.13291)(56.7,1.13356)(66.7,1.13486)(80,1.13648)(93.3,1.13689)(106.7,1.13694)(126.7,1.13697)(140,1.13697)(153.3,1.13694)(166.7,1.13681)(180,1.13648)(193.3,1.13616)(206.7,1.13600)(220,1.13583)(233.3,1.13567)(246.7,1.13551)(260,1.13531)(273.3,1.13518)(286.7,1.13502)(293.3,1.13502)(303.3,1.13526)(313.3,1.13583)(323.3,1.13648)(333.3,1.13681)(343.3,1.13681)(353.3,1.13648)(363.3,1.13632)(373.3,1.13664)(383.3,1.13713)(389.3,1.13770)};
\addplot[mid] coordinates {(7.3,1.13486)(23.3,1.13470)(36.7,1.13518)(50,1.13616)(66.7,1.13713)(80,1.13770)(93.3,1.13781)(110,1.13775)(126.7,1.13762)(140,1.13737)(156.7,1.13721)(173.3,1.13705)(186.7,1.13697)(206.7,1.13681)(226.7,1.13648)(240,1.13632)(253.3,1.13616)(266.7,1.13616)(280,1.13648)(293.3,1.13689)(306.7,1.13729)(320,1.13754)(333.3,1.13762)(346.7,1.13794)(360,1.13835)(373.3,1.13900)(389.3,1.13957)};
\candles{\dD}
\addplot[ma, mtgreen] coordinates {(7.3,1.13543)(20,1.13543)(33.3,1.13559)(46.7,1.13591)(60,1.13616)(73.3,1.13640)(86.7,1.13656)(106.7,1.13673)(126.7,1.13681)(146.7,1.13684)(166.7,1.13689)(186.7,1.13681)(206.7,1.13673)(226.7,1.13661)(246.7,1.13651)(266.7,1.13648)(286.7,1.13651)(306.7,1.13664)(323.3,1.13681)(340,1.13697)(353.3,1.13721)(366.7,1.13754)(380,1.13786)(389.3,1.13803)};
\addplot[ma, mtpurple] coordinates {(7.3,1.13518)(20,1.13526)(33.3,1.13567)(46.7,1.13616)(60,1.13656)(73.3,1.13681)(86.7,1.13689)(106.7,1.13697)(126.7,1.13705)(146.7,1.13713)(166.7,1.13705)(186.7,1.13689)(206.7,1.13681)(226.7,1.13664)(246.7,1.13648)(260,1.13640)(273.3,1.13645)(290,1.13661)(306.7,1.13681)(323.3,1.13697)(340,1.13721)(353.3,1.13762)(366.7,1.13803)(380,1.13840)(389.3,1.13864)};
\addplot[ma, mtred] coordinates {(7.3,1.13486)(20,1.13502)(33.3,1.13567)(46.7,1.13632)(60,1.13689)(73.3,1.13729)(86.7,1.13737)(100,1.13737)(116.7,1.13746)(133.3,1.13737)(150,1.13721)(166.7,1.13705)(183.3,1.13697)(200,1.13673)(216.7,1.13664)(233.3,1.13656)(246.7,1.13624)(260,1.13616)(273.3,1.13624)(286.7,1.13648)(300,1.13673)(313.3,1.13705)(326.7,1.13721)(340,1.13737)(350,1.13762)(360,1.13827)(370,1.13884)(380,1.13916)(389.3,1.13936)};
\addplot[ma, mtblue] coordinates {(7.3,1.13535)(16.7,1.13551)(26.7,1.13624)(36.7,1.13705)(50,1.13746)(66.7,1.13778)(76.7,1.13803)(86.7,1.13762)(100,1.13746)(116.7,1.13737)(133.3,1.13729)(146.7,1.13721)(160,1.13705)(173.3,1.13700)(186.7,1.13689)(200,1.13648)(213.3,1.13640)(226.7,1.13648)(233.3,1.13640)(243.3,1.13616)(253.3,1.13591)(263.3,1.13608)(273.3,1.13632)(283.3,1.13656)(293.3,1.13689)(303.3,1.13721)(313.3,1.13737)(323.3,1.13746)(333.3,1.13746)(340,1.13770)(346.7,1.13811)(353.3,1.13876)(360,1.13933)(366.7,1.13965)(373.3,1.13973)(380,1.13997)(389.3,1.14014)};
\addplot[sarcol, only marks, mark=*, mark size=1.5pt, mark options={draw=sarcol, fill=sarcol}] coordinates {(18.7,1.13356)(23.3,1.13380)(28.3,1.13413)(33.7,1.13453)(38.3,1.13486)(42.7,1.13526)(47,1.13583)(51.7,1.13640)(56,1.13681)(60.3,1.13721)(65,1.13749)(69.3,1.13778)(73.3,1.13798)(78.7,1.13876)(82.7,1.13871)(87,1.13859)(91.3,1.13846)(96,1.13835)(100.3,1.13819)(104.7,1.13798)(109,1.13781)(111.7,1.13694)(116,1.13697)(120.3,1.13700)(124.7,1.13705)(126.7,1.13798)(131.3,1.13794)(136,1.13791)(140.3,1.13788)(145,1.13785)(149.3,1.13781)(154,1.13773)(158.3,1.13762)(162.7,1.13749)(167,1.13737)(171.3,1.13726)(173,1.13616)(176.7,1.13619)(181.7,1.13622)(186.7,1.13625)(191.7,1.13628)(195,1.13725)(200,1.13716)(205,1.13708)(210,1.13700)(215,1.13692)(220,1.13684)(225,1.13677)(230,1.13671)(235,1.13664)(240,1.13658)(245,1.13651)(250,1.13645)(255,1.13638)(259.3,1.13632)(263.3,1.13531)(268.3,1.13538)(273.3,1.13548)(278.3,1.13557)(282.7,1.13575)(287.3,1.13608)(292,1.13640)(296.7,1.13673)(301.3,1.13700)(306,1.13729)(310,1.13754)(313.3,1.13814)(318.3,1.13812)(323.3,1.13811)(328.3,1.13809)(333.3,1.13806)(338,1.13801)(339.3,1.13697)(344,1.13713)(348.7,1.13737)(353.3,1.13765)(358,1.13791)(362.7,1.13824)(366.7,1.13856)(371.3,1.13892)(376,1.13933)(380,1.13973)(384.7,1.13997)(389.3,1.14111)};
\legendtxt{EURUSD, M10:\ \ Euro vs US Dollar}
\end{axis}
\begin{axis}[mt, at={(519.3pt,-475pt)}, width=466.7pt, height=27.3pt,
  xmin=7.3, xmax=474, ymin=-0.001101, ymax=0.001259,
  ytick={0.000971,-0.000756}, yticklabels={0.000971,-0.000756},
  vgrid={157.3}]
\addplot[hist, histteal] coordinates {(10,0.00030)(15,0.00040)(20,0.00042)(25,0.00038)(30,0.00030)(217,0.00008)(222,0.00010)(227,0.00010)(232,0.00008)(267,0.00015)(272,0.00020)(277,0.00025)(282,0.00028)(287,0.00030)(342,0.00020)(347,0.00030)(352,0.00035)(357,0.00040)};
\addplot[hist, histpink] coordinates {(37,0.00015)(42,0.00012)(47,0.00010)(52,0.00008)(57,0.00006)(62,0.00004)(80,-0.00020)(85,-0.00030)(90,-0.00035)(95,-0.00038)(100,-0.00035)(105,-0.00030)(110,-0.00020)(294,0.00010)(299,0.00008)(304,0.00006)(309,0.00004)(328,-0.00010)(333,-0.00012)(364,-0.00003)(369,-0.00005)(374,-0.00006)(379,-0.00006)(384,-0.00007)(389,-0.00008)};
\addplot[mtred, line width=0.6pt, smooth, tension=0.4, no marks] coordinates {(7.3,-0.000814)(23.3,-0.000526)(40,-0.000037)(56.7,0.000252)(76.7,0.000310)(96.7,0.000252)(116.7,0.000108)(136.7,-0.000037)(156.7,-0.000181)(176.7,-0.000238)(196.7,-0.000325)(216.7,-0.000382)(236.7,-0.000382)(253.3,-0.000382)(266.7,-0.000325)(280,-0.000123)(293.3,0.000108)(310,0.000310)(326.7,0.000396)(340,0.000339)(353.3,0.000540)(366.7,0.000828)(380,0.001029)(389.3,0.001029)};
\addplot[mtblue, line width=1.3pt, smooth, tension=0.4, no marks] coordinates {(7.3,-0.000756)(20,-0.000325)(33.3,0.000050)(46.7,0.000252)(60,0.000396)(76.7,0.000396)(93.3,0.000339)(113.3,0.000166)(133.3,0.000050)(153.3,-0.000123)(173.3,-0.000181)(193.3,-0.000325)(206.7,-0.000411)(226.7,-0.000382)(246.7,-0.000411)(263.3,-0.000325)(276.7,-0.000037)(290,0.000252)(306.7,0.000454)(323.3,0.000396)(336.7,0.000396)(346.7,0.000626)(356.7,0.000971)(370,0.001029)(380,0.001087)(389.3,0.000914)};
\node[anchor=north west, font=\tf, inner sep=1pt] at (rel axis cs:0,1) [xshift=1pt, yshift=-1pt] {MACD( 12, 26, 9 ) 0.000000 0.000000 0.000701 0.000774 -0.000074};
\end{axis}
\begin{axis}[mt, at={(519.3pt,-504pt)}, width=466.7pt, height=31.7pt,
  xmin=7.3, xmax=474, ymin=-0.33, ymax=63,
  ytick={45,25,1.4}, yticklabels={45.00,25.00,1.40},
  ymajorgrids, major grid style={lvl},
  extra y ticks={62.08,0}, extra y tick labels={62.08,0.00},
  vgrid={157.3}]
\addplot[mtblue!70, line width=0.6pt, no marks] coordinates {(7.3,34.3)(13.3,41.0)(20,27.7)(26.7,42.3)(36.7,34.3)(46.7,41.0)(60,37.7)(73.3,31.0)(86.7,22.3)(100,19.7)(113.3,21.0)(126.7,24.3)(140,26.3)(153.3,21.0)(166.7,21.0)(180,21.0)(193.3,9.0)(206.7,7.7)(220,9.0)(233.3,14.3)(240,24.3)(250,34.3)(260,34.3)(270,31.0)(276.7,41.0)(286.7,34.3)(300,34.3)(313.3,27.7)(323.3,37.7)(333.3,24.3)(340,37.7)(346.7,31.0)(353.3,34.3)(360,26.3)(370,31.0)(376.7,37.7)(383.3,31.0)(389.3,26.3)};
\addplot[mtred!80, line width=0.6pt, no marks] coordinates {(7.3,17.7)(20,14.3)(33.3,11.0)(46.7,11.0)(60,9.7)(73.3,9.0)(80,21.0)(93.3,22.3)(106.7,19.7)(120,24.3)(133.3,26.3)(146.7,26.3)(156.7,47.7)(163.3,27.7)(173.3,26.3)(186.7,31.0)(200,34.3)(213.3,27.7)(226.7,17.7)(240,14.3)(253.3,21.0)(266.7,17.7)(280,11.0)(293.3,7.7)(306.7,11.0)(316.7,7.7)(323.3,27.7)(333.3,24.3)(343.3,17.7)(353.3,9.0)(363.3,4.3)(373.3,9.0)(383.3,7.7)(389.3,15.7)};
\addplot[adxcol, line width=1.3pt, smooth, tension=0.4, no marks] coordinates {(83.3,37.7)(100,31.0)(113.3,26.3)(126.7,21.0)(140,22.3)(156.7,24.3)(173.3,22.3)(186.7,27.7)(200,34.3)(213.3,42.3)(226.7,42.3)(240,37.7)(253.3,31.0)(266.7,31.0)(280,35.7)(293.3,37.7)(306.7,41.0)(313.3,41.0)(323.3,34.3)(333.3,24.3)(340,22.3)(350,31.0)(360,44.3)(366.7,51.0)(376.7,47.7)(383.3,51.0)(389.3,45.7)};
\node[anchor=north west, font=\tf, inner sep=1pt] at (rel axis cs:0,1) [xshift=1pt, yshift=-1pt] {ADX Wilder(8) 45.88 26.73 16.66};
\end{axis}
\begin{axis}[mt, at={(519.3pt,-537.3pt)}, width=466.7pt, height=31.7pt,
  xmin=7.3, xmax=474, ymin=-1.6, ymax=99.5,
  ytick={75,50,25}, yticklabels={75.00,50.00,25.00},
  ymajorgrids, major grid style={lvl},
  extra y ticks={100,0}, extra y tick labels={100.00,0.00},
  xtick={7.3,53.3,99.3,145.7,191.7,238,284,330.3,376.7},
  xticklabels={25 Jun 2026,25 Jun 18:00,25 Jun 20:40,25 Jun 23:20,26 Jun 02:00,26 Jun 04:40,26 Jun 07:20,26 Jun 10:00,26 Jun 12:40},
  vgrid={157.3}]
\addplot[adxcol, line width=1.3pt, no marks] coordinates {(7.3,53.7)(13.3,59.0)(20,53.7)(26.7,59.0)(33.3,59.0)(46.7,62.2)(60,64.4)(73.3,59.0)(86.7,53.7)(100,53.7)(113.3,53.7)(126.7,53.7)(140,50.5)(153.3,43.1)(157.3,37.8)(166.7,43.1)(180,48.4)(193.3,43.1)(206.7,37.8)(220,43.1)(233.3,48.4)(240,43.1)(253.3,37.8)(266.7,45.2)(276.7,55.9)(286.7,59.0)(300,55.9)(313.3,59.0)(323.3,50.5)(333.3,55.9)(340,64.4)(350,69.7)(360,75.0)(370,71.8)(376.7,75.0)(383.3,69.7)(389.3,61.2)};
\node[anchor=north west, font=\tf, inner sep=1pt] at (rel axis cs:0,1) [xshift=1pt, yshift=-1pt] {RSI(14) 60.65};
\end{axis}
\end{tikzpicture}
\end{document}
